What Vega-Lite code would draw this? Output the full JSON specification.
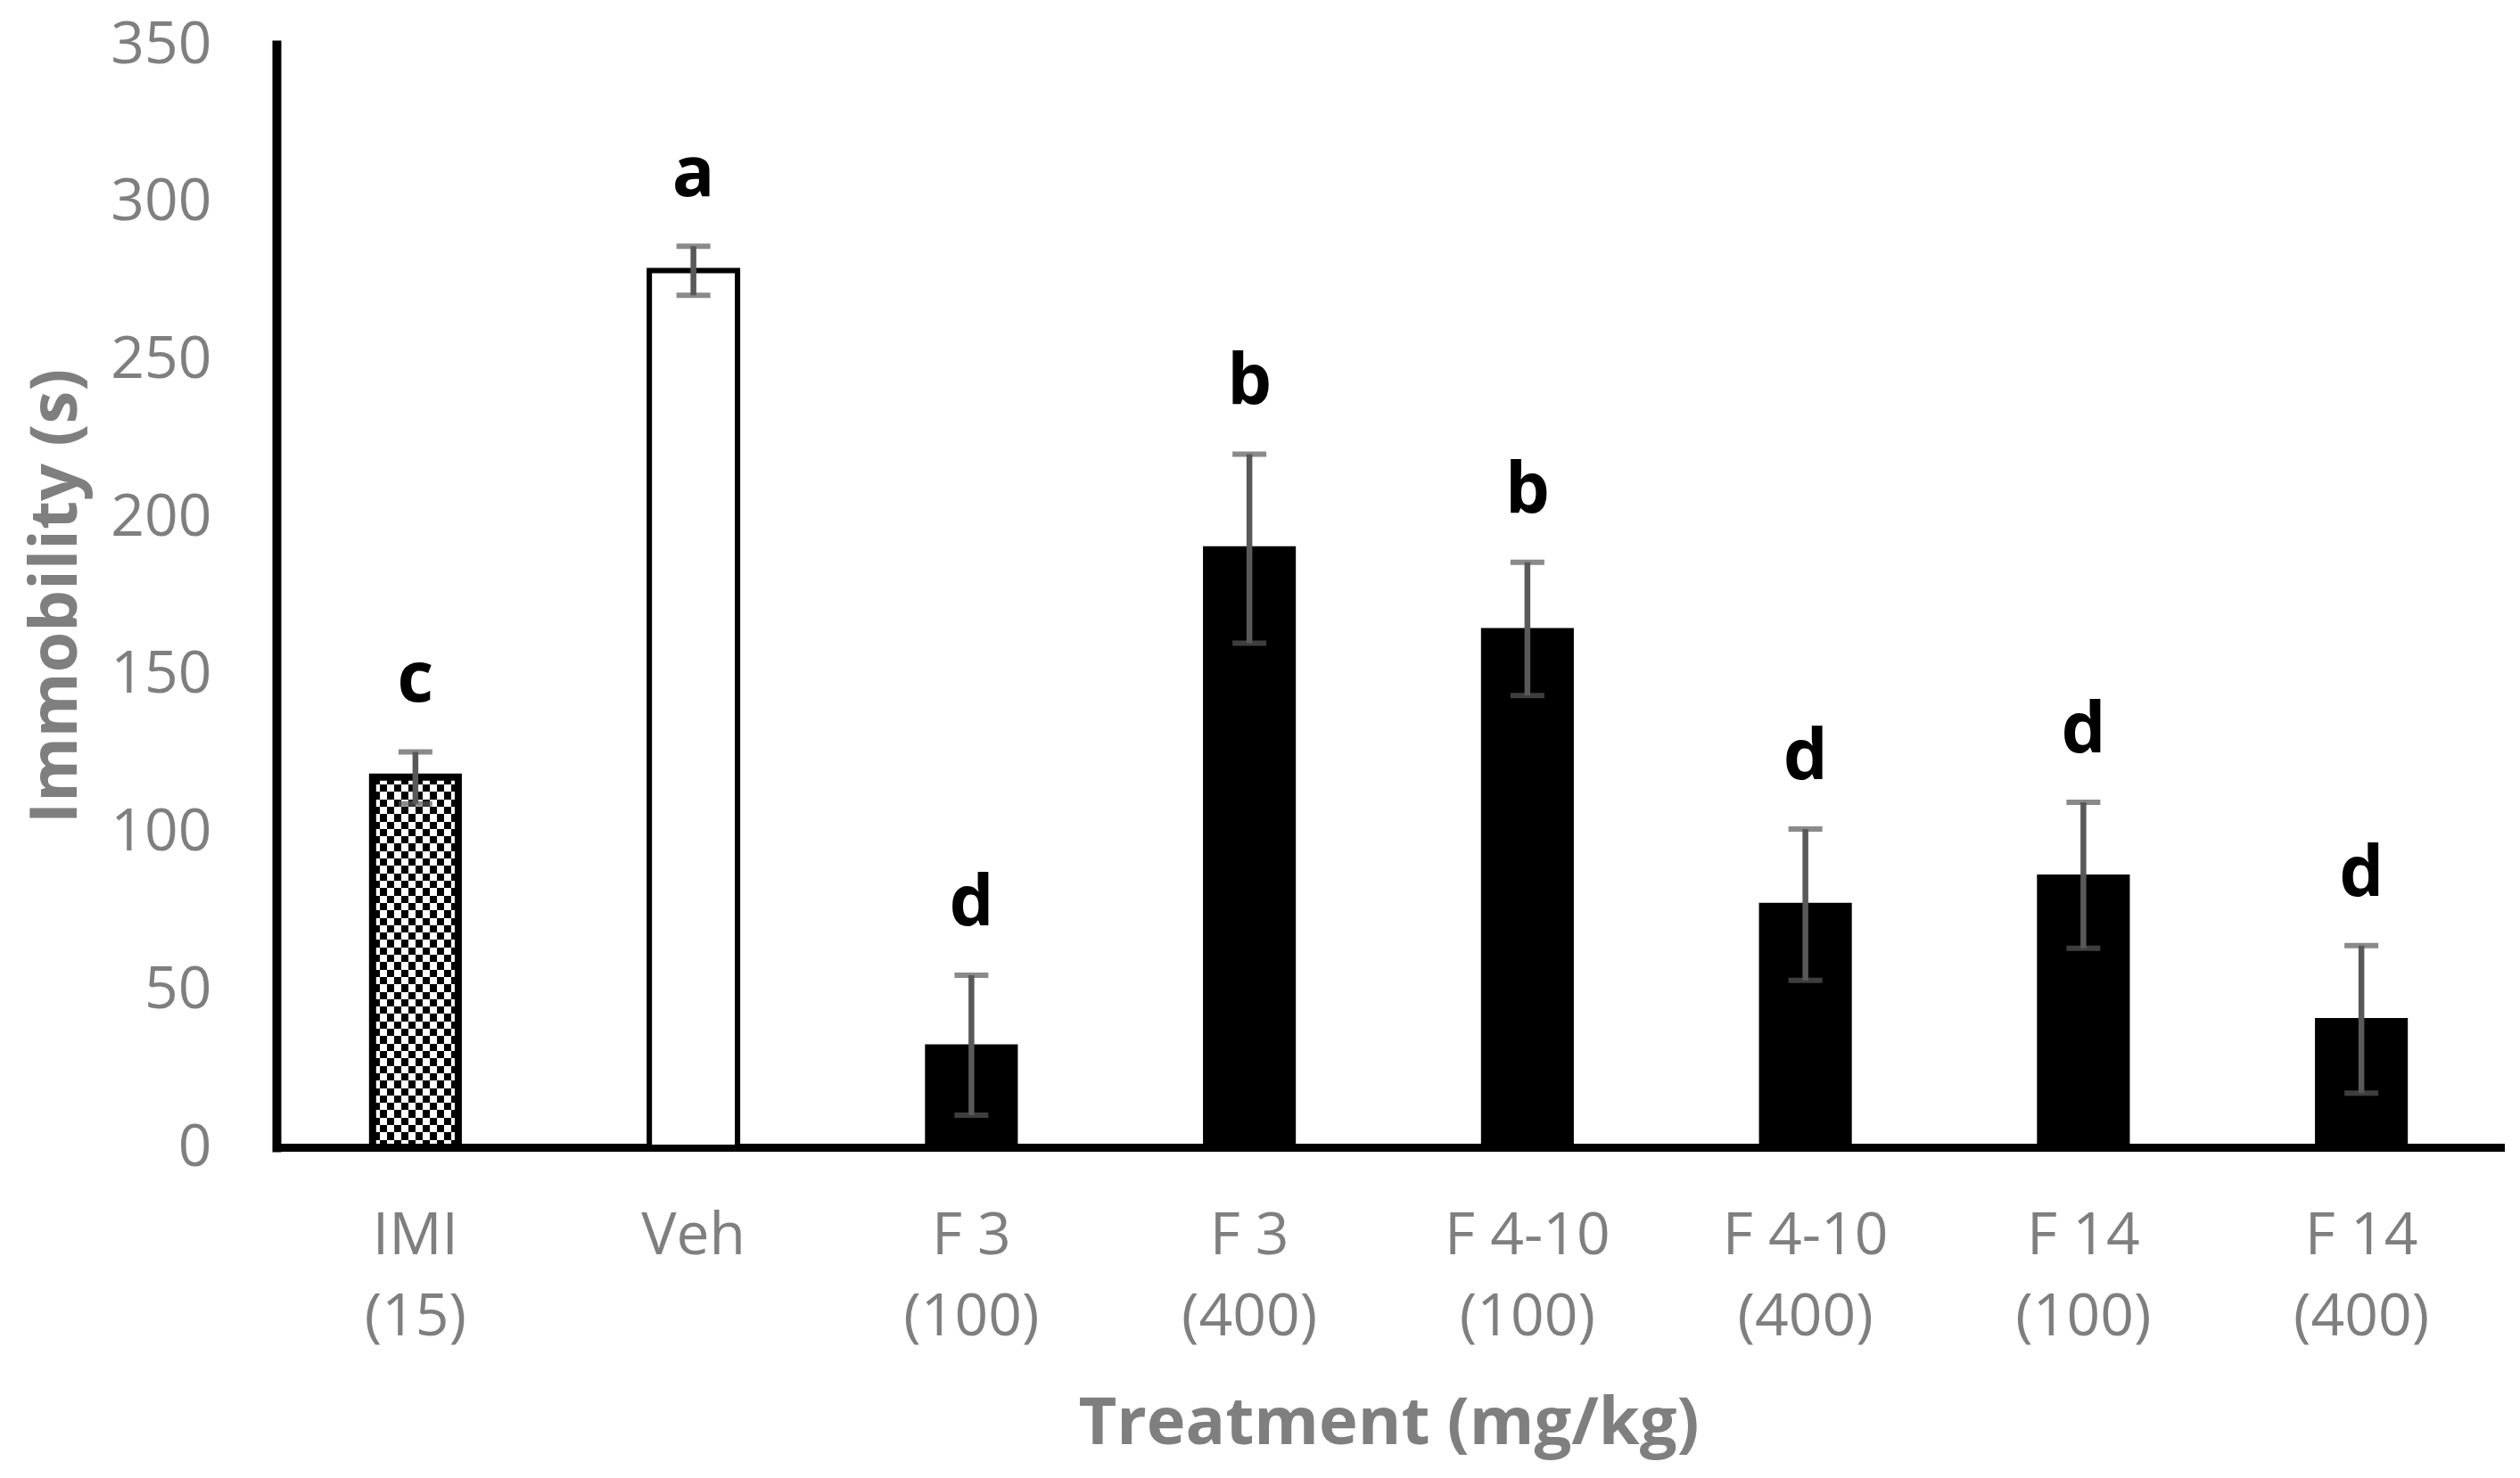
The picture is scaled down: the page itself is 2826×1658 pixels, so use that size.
{
  "$schema": "https://vega.github.io/schema/vega-lite/v6.json",
  "width": 2494,
  "height": 1237,
  "autosize": "none",
  "padding": {"left": 310, "top": 50, "right": 22, "bottom": 371},
  "background": "white",
  "data": {
    "values": [
      {"treatment": "IMI (15)", "group": "Imipramine", "mean": 117.5, "lo": 109, "hi": 125.5, "letter": "c"},
      {"treatment": "Veh", "group": "Vehicle", "mean": 278.3, "lo": 270.4, "hi": 286, "letter": "a"},
      {"treatment": "F 3 (100)", "group": "Fraction", "mean": 32.7, "lo": 10.2, "hi": 54.6, "letter": "d"},
      {"treatment": "F 3 (400)", "group": "Fraction", "mean": 190.8, "lo": 160, "hi": 220, "letter": "b"},
      {"treatment": "F 4-10 (100)", "group": "Fraction", "mean": 164.8, "lo": 143.4, "hi": 185.7, "letter": "b"},
      {"treatment": "F 4-10 (400)", "group": "Fraction", "mean": 77.6, "lo": 53, "hi": 101, "letter": "d"},
      {"treatment": "F 14 (100)", "group": "Fraction", "mean": 86.6, "lo": 63.2, "hi": 109.5, "letter": "d"},
      {"treatment": "F 14 (400)", "group": "Fraction", "mean": 41, "lo": 17.2, "hi": 64, "letter": "d"}
    ]
  },
  "encoding": {
    "x": {
      "field": "treatment",
      "type": "nominal",
      "sort": null,
      "title": "Treatment (mg/kg)",
      "scale": {
        "domain": ["IMI (15)", "Veh", "F 3 (100)", "F 3 (400)", "F 4-10 (100)", "F 4-10 (400)", "F 14 (100)", "F 14 (400)"],
        "paddingInner": 0.666,
        "paddingOuter": 0.333
      },
      "axis": {
        "labelAngle": 0,
        "labelLimit": 0,
        "ticks": false,
        "domainColor": "black",
        "domainWidth": 9,
        "domainCap": "square",
        "labelPadding": 67,
        "labelLineHeight": 91,
        "labelExpr": "indexof(datum.label, ' (') > 0 ? [substring(datum.label, 0, indexof(datum.label, ' (')), substring(datum.label, indexof(datum.label, ' (') + 1)] : datum.label",
        "titlePadding": 74
      }
    },
    "y": {
      "field": "mean",
      "type": "quantitative",
      "title": "Immobility (s)",
      "scale": {"domain": [0, 350], "nice": false},
      "axis": {
        "values": [0, 50, 100, 150, 200, 250, 300, 350],
        "grid": false,
        "ticks": false,
        "domainColor": "black",
        "domainWidth": 10,
        "domainCap": "square",
        "labelPadding": 73,
        "titlePadding": 22
      }
    }
  },
  "layer": [
    {
      "transform": [{"filter": "datum.group === 'Fraction'"}],
      "mark": {"type": "bar", "color": "black"}
    },
    {
      "transform": [{"filter": "datum.group === 'Vehicle'"}],
      "mark": {"type": "bar", "fill": "white", "stroke": "black", "strokeWidth": 6, "width": {"band": 0.95}}
    },
    {
      "transform": [{"filter": "datum.group === 'Imipramine'"}],
      "mark": {
        "type": "bar",
        "width": {"band": 0.923},
        "color": {
          "gradient": "linear", "x1": 0, "y1": 0, "x2": 1, "y2": 0,
          "stops": [
            {"offset": 0, "color": "#000"}, {"offset": 0.0833, "color": "#000"}, {"offset": 0.0833, "color": "#fff"}, {"offset": 0.1667, "color": "#fff"},
            {"offset": 0.1667, "color": "#000"}, {"offset": 0.25, "color": "#000"}, {"offset": 0.25, "color": "#fff"}, {"offset": 0.3333, "color": "#fff"},
            {"offset": 0.3333, "color": "#000"}, {"offset": 0.4167, "color": "#000"}, {"offset": 0.4167, "color": "#fff"}, {"offset": 0.5, "color": "#fff"},
            {"offset": 0.5, "color": "#000"}, {"offset": 0.5833, "color": "#000"}, {"offset": 0.5833, "color": "#fff"}, {"offset": 0.6667, "color": "#fff"},
            {"offset": 0.6667, "color": "#000"}, {"offset": 0.75, "color": "#000"}, {"offset": 0.75, "color": "#fff"}, {"offset": 0.8333, "color": "#fff"},
            {"offset": 0.8333, "color": "#000"}, {"offset": 0.9167, "color": "#000"}, {"offset": 0.9167, "color": "#fff"}, {"offset": 1, "color": "#fff"}
          ]
        }
      }
    },
    {
      "transform": [{"filter": "datum.group === 'Imipramine'"}],
      "mark": {
        "type": "bar",
        "width": {"band": 0.923},
        "blend": "difference",
        "color": {
          "gradient": "linear", "x1": 0, "y1": 0, "x2": 0, "y2": 1,
          "stops": [
            {"offset": 0, "color": "#000"}, {"offset": 0.02, "color": "#000"}, {"offset": 0.02, "color": "#fff"}, {"offset": 0.04, "color": "#fff"},
            {"offset": 0.04, "color": "#000"}, {"offset": 0.06, "color": "#000"}, {"offset": 0.06, "color": "#fff"}, {"offset": 0.08, "color": "#fff"},
            {"offset": 0.08, "color": "#000"}, {"offset": 0.1, "color": "#000"}, {"offset": 0.1, "color": "#fff"}, {"offset": 0.12, "color": "#fff"},
            {"offset": 0.12, "color": "#000"}, {"offset": 0.14, "color": "#000"}, {"offset": 0.14, "color": "#fff"}, {"offset": 0.16, "color": "#fff"},
            {"offset": 0.16, "color": "#000"}, {"offset": 0.18, "color": "#000"}, {"offset": 0.18, "color": "#fff"}, {"offset": 0.2, "color": "#fff"},
            {"offset": 0.2, "color": "#000"}, {"offset": 0.22, "color": "#000"}, {"offset": 0.22, "color": "#fff"}, {"offset": 0.24, "color": "#fff"},
            {"offset": 0.24, "color": "#000"}, {"offset": 0.26, "color": "#000"}, {"offset": 0.26, "color": "#fff"}, {"offset": 0.28, "color": "#fff"},
            {"offset": 0.28, "color": "#000"}, {"offset": 0.3, "color": "#000"}, {"offset": 0.3, "color": "#fff"}, {"offset": 0.32, "color": "#fff"},
            {"offset": 0.32, "color": "#000"}, {"offset": 0.34, "color": "#000"}, {"offset": 0.34, "color": "#fff"}, {"offset": 0.36, "color": "#fff"},
            {"offset": 0.36, "color": "#000"}, {"offset": 0.38, "color": "#000"}, {"offset": 0.38, "color": "#fff"}, {"offset": 0.4, "color": "#fff"},
            {"offset": 0.4, "color": "#000"}, {"offset": 0.42, "color": "#000"}, {"offset": 0.42, "color": "#fff"}, {"offset": 0.44, "color": "#fff"},
            {"offset": 0.44, "color": "#000"}, {"offset": 0.46, "color": "#000"}, {"offset": 0.46, "color": "#fff"}, {"offset": 0.48, "color": "#fff"},
            {"offset": 0.48, "color": "#000"}, {"offset": 0.5, "color": "#000"}, {"offset": 0.5, "color": "#fff"}, {"offset": 0.52, "color": "#fff"},
            {"offset": 0.52, "color": "#000"}, {"offset": 0.54, "color": "#000"}, {"offset": 0.54, "color": "#fff"}, {"offset": 0.56, "color": "#fff"},
            {"offset": 0.56, "color": "#000"}, {"offset": 0.58, "color": "#000"}, {"offset": 0.58, "color": "#fff"}, {"offset": 0.6, "color": "#fff"},
            {"offset": 0.6, "color": "#000"}, {"offset": 0.62, "color": "#000"}, {"offset": 0.62, "color": "#fff"}, {"offset": 0.64, "color": "#fff"},
            {"offset": 0.64, "color": "#000"}, {"offset": 0.66, "color": "#000"}, {"offset": 0.66, "color": "#fff"}, {"offset": 0.68, "color": "#fff"},
            {"offset": 0.68, "color": "#000"}, {"offset": 0.7, "color": "#000"}, {"offset": 0.7, "color": "#fff"}, {"offset": 0.72, "color": "#fff"},
            {"offset": 0.72, "color": "#000"}, {"offset": 0.74, "color": "#000"}, {"offset": 0.74, "color": "#fff"}, {"offset": 0.76, "color": "#fff"},
            {"offset": 0.76, "color": "#000"}, {"offset": 0.78, "color": "#000"}, {"offset": 0.78, "color": "#fff"}, {"offset": 0.8, "color": "#fff"},
            {"offset": 0.8, "color": "#000"}, {"offset": 0.82, "color": "#000"}, {"offset": 0.82, "color": "#fff"}, {"offset": 0.84, "color": "#fff"},
            {"offset": 0.84, "color": "#000"}, {"offset": 0.86, "color": "#000"}, {"offset": 0.86, "color": "#fff"}, {"offset": 0.88, "color": "#fff"},
            {"offset": 0.88, "color": "#000"}, {"offset": 0.9, "color": "#000"}, {"offset": 0.9, "color": "#fff"}, {"offset": 0.92, "color": "#fff"},
            {"offset": 0.92, "color": "#000"}, {"offset": 0.94, "color": "#000"}, {"offset": 0.94, "color": "#fff"}, {"offset": 0.96, "color": "#fff"},
            {"offset": 0.96, "color": "#000"}, {"offset": 0.98, "color": "#000"}, {"offset": 0.98, "color": "#fff"}, {"offset": 1, "color": "#fff"}
          ]
        }
      }
    },
    {
      "transform": [{"filter": "datum.group === 'Imipramine'"}],
      "mark": {"type": "bar", "filled": false, "stroke": "black", "strokeWidth": 8, "width": {"band": 0.923}}
    },
    {
      "mark": {"type": "rule", "color": "#595959", "strokeWidth": 6.5},
      "encoding": {
        "y": {"field": "lo", "type": "quantitative", "title": "Immobility (s)"},
        "y2": {"field": "hi"}
      }
    },
    {
      "mark": {"type": "tick", "color": "#595959", "size": 38, "thickness": 6},
      "encoding": {"y": {"field": "hi", "type": "quantitative", "title": "Immobility (s)"}}
    },
    {
      "mark": {"type": "tick", "color": "#595959", "size": 38, "thickness": 6},
      "encoding": {"y": {"field": "lo", "type": "quantitative", "title": "Immobility (s)"}}
    },
    {
      "mark": {"type": "text", "font": "Open Sans", "fontWeight": "bold", "fontSize": 79, "color": "black", "baseline": "alphabetic", "dy": -56},
      "encoding": {
        "y": {"field": "hi", "type": "quantitative", "title": "Immobility (s)"},
        "text": {"field": "letter"}
      }
    }
  ],
  "config": {
    "view": {"stroke": null},
    "axis": {
      "labelFont": "Open Sans",
      "labelFontSize": 66,
      "labelColor": "#7f7f7f",
      "titleFont": "Open Sans",
      "titleFontWeight": "bold",
      "titleFontSize": 74,
      "titleColor": "#7f7f7f"
    }
  }
}
